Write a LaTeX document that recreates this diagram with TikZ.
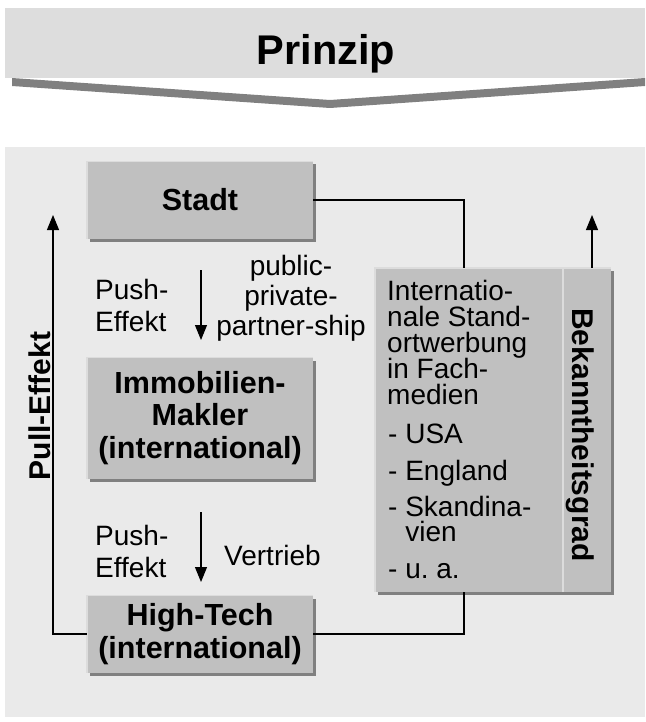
\documentclass[tikz,border=0pt]{standalone}
\usepackage{fontspec}
\setmainfont{Liberation Sans}
\usetikzlibrary{arrows.meta,shadows}
\definecolor{bannergray}{HTML}{DDDDDD}
\definecolor{shadegray}{HTML}{808080}
\definecolor{panelgray}{HTML}{EAEAEA}
\definecolor{boxgray}{HTML}{C0C0C0}
\definecolor{edgegray}{HTML}{DCDCDC}
\begin{document}
\begin{tikzpicture}[x=1pt,y=-1pt,
  box/.style={rectangle, fill=boxgray, inner sep=0pt, align=center,
    drop shadow={shadow xshift=2.5pt, shadow yshift=-3pt, fill=shadegray, opacity=1},
    font=\bfseries\fontsize{30.5}{32.5}\selectfont},
  boxedge/.style={draw=edgegray, line width=1.5pt},
  lbl/.style={inner sep=0pt, anchor=base west, font=\fontsize{28}{26}\selectfont},
  clbl/.style={inner sep=0pt, anchor=base, font=\fontsize{28}{26}\selectfont},
  vlbl/.style={inner sep=0pt, anchor=base, font=\bfseries\fontsize{30}{32}\selectfont},
  conn/.style={draw=black, line width=1.1pt},
  arr/.style={conn, -{Triangle[length=15pt,width=12pt]}}
]
\useasboundingbox (0,0) rectangle (645,722);
% banner
\fill[shadegray] (12,78) -- (330,100) -- (645,78) -- (645,86) -- (330,108) -- (12,86) -- cycle;
\fill[bannergray] (5,8) rectangle (645,78);
\node[inner sep=0pt, anchor=base, font=\bfseries\fontsize{41.5}{45}\selectfont] (title) at (326,65) {Prinzip};
% panel
\fill[panelgray] (5,147) rectangle (645,717);

% boxes
\node[box, minimum width=226pt, minimum height=77pt] (stadt) at (200,200) {Stadt};
\node[box, minimum width=226pt, minimum height=121pt] (makler) at (200,418) {Immobilien-\\Makler\\(international)};
\node[box, minimum width=226pt, minimum height=77pt] (hightech) at (200,634) {High-Tech\\(international)};
\node[box, minimum width=236pt, minimum height=324pt] (rbox) at (493,430) {};
\foreach \b in {stadt,makler,hightech,rbox}{
  \draw[boxedge] (\b.south west) -- (\b.north west) -- (\b.north east);
}
\draw[boxedge] (563,268) -- (563,592);

% connectors
\coordinate (jt) at (464,200);
\coordinate (pulltip) at (53,215);
\coordinate (bektip) at (592,215);
\draw[conn] (stadt.east) -| (rbox.north -| jt);
\draw[conn] (rbox.south -| jt) |- (hightech.east);
\draw[arr] (hightech.west) -| (pulltip);
\draw[arr] (rbox.north -| bektip) -- (bektip);
\coordinate (d1s) at (201,270);
\coordinate (d1e) at (201,340);
\coordinate (d2s) at (201,512);
\coordinate (d2e) at (201,582);
\draw[arr] (d1s) -- (d1e);
\draw[arr] (d2s) -- (d2e);

% labels
\node[lbl] (p1) at (95,299) {Push-};
\node[lbl] (p2) at (95,331) {Effekt};
\node[lbl] (p3) at (95,545) {Push-};
\node[lbl] (p4) at (95,577) {Effekt};
\node[clbl] (ppp1) at (291,275) {public-};
\node[clbl] (ppp2) at (291,305) {private-};
\node[clbl] (ppp3) at (291,335) {partner-ship};
\node[lbl] (vert) at (224,565) {Vertrieb};

\node[vlbl, rotate=90] (pull) at (50,406) {Pull-Effekt};
\node[vlbl, rotate=-90] (bek) at (572,435) {Bekanntheitsgrad};

% right box text
\node[lbl] (t1) at (387,300) {Internatio-};
\node[lbl] (t2) at (387,326) {nale Stand-};
\node[lbl] (t3) at (387,352) {ortwerbung};
\node[lbl] (t4) at (387,378) {in Fach-};
\node[lbl] (t5) at (387,404) {medien};
\node[lbl] (t6) at (388,443) {- USA};
\node[lbl] (t7) at (388,480) {- England};
\node[inner sep=0pt, anchor=north west, align=left, font=\fontsize{28}{25}\selectfont] (t8) at (388,496.5) {- Skandina-\\\phantom{- }vien};
\node[lbl] (t10) at (388,578) {- u.\ a.};
\end{tikzpicture}
\end{document}
